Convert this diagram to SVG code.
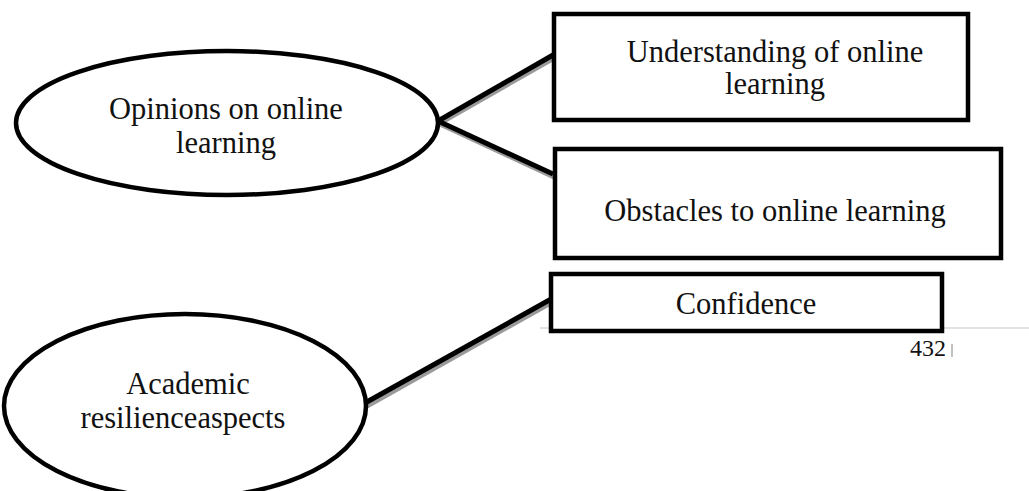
<svg xmlns="http://www.w3.org/2000/svg" width="1029" height="491" viewBox="0 0 1029 491">
<style>
.node{fill:#fff;stroke:#000;stroke-width:4.5}
.lbl{font-family:"Liberation Serif",serif;font-size:30.5px;fill:#111;text-anchor:middle}
.conn{stroke:#000;stroke-width:5;stroke-linecap:butt}
.shadow{stroke:#9a9a9a;stroke-width:5}
</style>
<rect width="1029" height="491" fill="#fff"/>
<line x1="540" y1="328" x2="1029" y2="328" stroke="#d9d9d9" stroke-width="1.5"/>
<g id="connectors">
<line class="shadow" x1="440" y1="123" x2="554" y2="58"/>
<line class="shadow" x1="440" y1="124" x2="554" y2="177"/>
<line class="shadow" x1="367" y1="406" x2="554" y2="301"/>
<line class="conn" x1="438" y1="121" x2="553" y2="55"/>
<line class="conn" x1="438" y1="121" x2="553" y2="174"/>
<line class="conn" x1="365" y1="403" x2="553" y2="298"/>
</g>
<g id="n1">
<ellipse class="node" cx="227" cy="123" rx="211" ry="72"/>
<text class="lbl" x="226" y="119">Opinions on online</text>
<text class="lbl" x="226" y="153">learning</text>
</g>
<g id="n2">
<ellipse class="node" cx="185" cy="406" rx="181" ry="92"/>
<text class="lbl" x="188" y="394">Academic</text>
<text class="lbl" x="183" y="428">resilienceaspects</text>
</g>
<g id="n3">
<rect class="node" x="554" y="14" width="414" height="106"/>
<text class="lbl" x="775" y="62">Understanding of online</text>
<text class="lbl" x="775" y="94">learning</text>
</g>
<g id="n4">
<rect class="node" x="555" y="149" width="446" height="109"/>
<text class="lbl" x="775" y="221">Obstacles to online learning</text>
</g>
<g id="n5">
<rect class="node" x="551" y="274" width="391" height="57" stroke-width="5"/>
<text class="lbl" x="746" y="314">Confidence</text>
</g>
<text x="928" y="356" font-family="Liberation Serif,serif" font-size="24" fill="#111" text-anchor="middle">432</text>
<line x1="952" y1="344" x2="952" y2="357" stroke="#999" stroke-width="1.2"/>
</svg>
